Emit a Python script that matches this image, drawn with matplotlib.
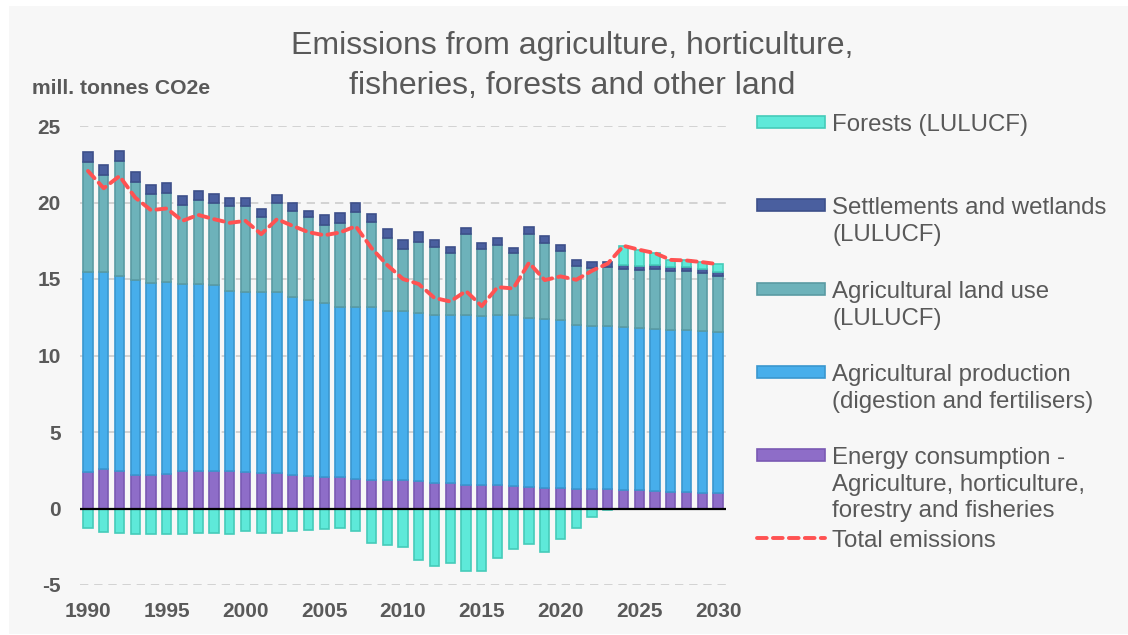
import numpy as np
import matplotlib as mpl

mpl.use('Agg')

import matplotlib.pyplot as plt
import matplotlib.patches as patches
from matplotlib.lines import Line2D

plt.rcParams['font.family'] = ['Liberation Sans', 'DejaVu Sans']
plt.rcParams['axes.unicode_minus'] = False

# emissions by source, mill. tonnes CO2e
years = np.arange(1990, 2031)
energy = [2.39, 2.55, 2.43, 2.22, 2.22, 2.28, 2.43, 2.46, 2.46, 2.43,
          2.39, 2.33, 2.33, 2.22, 2.11, 2.07, 2.07, 1.94, 1.89, 1.85,
          1.89, 1.83, 1.68, 1.68, 1.55, 1.55, 1.53, 1.44, 1.42, 1.35,
          1.35, 1.28, 1.26, 1.26, 1.20, 1.18, 1.13, 1.07, 1.07, 1.02, 1.02]
production = [13.06, 12.90, 12.78, 12.73, 12.55, 12.53, 12.23, 12.20, 12.14, 11.80,
              11.75, 11.79, 11.79, 11.60, 11.53, 11.35, 11.07, 11.22, 11.27, 11.07,
              11.03, 10.94, 10.98, 10.98, 11.07, 11.00, 11.09, 11.18, 11.03, 11.03,
              10.94, 10.73, 10.69, 10.64, 10.66, 10.59, 10.60, 10.61, 10.57, 10.56, 10.49]
land_use = [7.22, 6.35, 7.50, 6.42, 5.77, 5.84, 5.18, 5.51, 5.35, 5.55,
            5.66, 4.92, 5.88, 5.65, 5.38, 5.12, 5.51, 6.20, 5.55, 4.79,
            4.05, 4.68, 4.46, 4.03, 5.31, 4.40, 4.61, 4.07, 5.50, 5.00,
            4.55, 3.87, 3.80, 3.87, 3.78, 3.79, 3.91, 3.86, 3.90, 3.80, 3.70]
settlements = [0.65, 0.65, 0.65, 0.60, 0.61, 0.61, 0.61, 0.61, 0.59, 0.54,
               0.50, 0.52, 0.50, 0.48, 0.45, 0.65, 0.65, 0.59, 0.55, 0.57,
               0.55, 0.61, 0.43, 0.39, 0.39, 0.39, 0.48, 0.32, 0.44, 0.42,
               0.35, 0.33, 0.33, 0.31, 0.29, 0.26, 0.25, 0.23, 0.23, 0.26, 0.24]
forests = [-1.26, -1.52, -1.63, -1.65, -1.65, -1.65, -1.65, -1.59, -1.63, -1.65,
           -1.50, -1.63, -1.59, -1.48, -1.41, -1.33, -1.26, -1.50, -2.24, -2.37,
           -2.52, -3.39, -3.79, -3.55, -4.11, -4.11, -3.24, -2.63, -2.33, -2.87,
           -2.02, -1.26, -0.54, -0.07, 1.24, 1.09, 0.80, 0.48, 0.44, 0.46, 0.52]

labels = ['Forests (LULUCF)',
          'Settlements and wetlands\n(LULUCF)',
          'Agricultural land use\n(LULUCF)',
          'Agricultural production\n(digestion and fertilisers)',
          'Energy consumption -\nAgriculture, horticulture,\nforestry and fisheries',
          'Total emissions']

c_forest = ('#5ee9d9', '#45cbb9')
c_settle = ('#4a5f9f', '#3d508a')
c_land = ('#6db2ba', '#5a9ba3')
c_prod = ('#47aeeb', '#3a97cf')
c_energy = ('#8e6dc8', '#7a59b3')
c_total = '#ff5252'
txt_col = '#595959'

energy = np.array(energy)
production = np.array(production)
land_use = np.array(land_use)
settlements = np.array(settlements)
forests = np.array(forests)
total = energy + production + land_use + settlements + forests

W, H = 1128, 635
fig = plt.figure(figsize=(W / 100, H / 100), dpi=100, facecolor='white')
# light grey panel behind everything
fig.patches.append(patches.Rectangle((9 / W, 1 / H), 1119 / W, 628 / H,
                                     transform=fig.transFigure, fc='#f7f7f7',
                                     ec='none', zorder=-5))

ax = fig.add_axes([80.1 / W, 50 / H, 645.8 / W, 459 / H])
ax.set_facecolor('none')

bw = 0.58
b1 = energy
b2 = b1 + production
b3 = b2 + land_use
b4 = b3 + settlements
f_bottom = np.where(forests > 0, b4, 0.0)

kw = dict(width=bw, linewidth=1.2, zorder=3)
ax.bar(years, energy, color=c_energy[0], edgecolor=c_energy[1], **kw)
ax.bar(years, production, bottom=b1, color=c_prod[0], edgecolor=c_prod[1], **kw)
ax.bar(years, land_use, bottom=b2, color=c_land[0], edgecolor=c_land[1], **kw)
ax.bar(years, settlements, bottom=b3, color=c_settle[0], edgecolor=c_settle[1], **kw)
ax.bar(years, forests, bottom=f_bottom, color=c_forest[0], edgecolor=c_forest[1], **kw)

ax.plot(years, total, color=c_total, lw=2.8, dashes=(2.5, 1.6),
        dash_capstyle='round', zorder=5)

ax.axhline(0, color='black', lw=1.6, zorder=4)

ax.set_xlim(1989.5, 2030.5)
ax.set_ylim(-5, 25)
ax.set_yticks([-5, 0, 5, 10, 15, 20, 25])
ax.set_xticks(np.arange(1990, 2031, 5))
for y in [-5, 5, 10, 15, 20, 25]:
    ax.axhline(y, color='#cccccc', lw=1.2, dashes=(5, 3.5), zorder=1)
for s in ax.spines.values():
    s.set_visible(False)
ax.tick_params(length=0, labelsize=15, labelcolor=txt_col)
ax.tick_params(axis='y', pad=14)
ax.tick_params(axis='x', pad=12)
for t in ax.get_xticklabels() + ax.get_yticklabels():
    t.set_fontweight('bold')

fig.text(572 / W, 1 - 66 / H,
         'Emissions from agriculture, horticulture,\nfisheries, forests and other land',
         ha='center', va='center', fontsize=23, color=txt_col, linespacing=1.45)
fig.text(32 / W, 1 - 88 / H, 'mill. tonnes CO2e', ha='left', va='center',
         fontsize=15.2, fontweight='bold', color=txt_col)

# legend, drawn by hand to keep the wide spacing between entries
legend_y = [122, 205, 289, 372, 455]
legend_cols = [c_forest, c_settle, c_land, c_prod, c_energy]
for yy, col, lab in zip(legend_y, legend_cols, labels[:5]):
    fig.patches.append(patches.Rectangle((757 / W, (H - yy - 6) / H), 68 / W, 12 / H,
                                         transform=fig.transFigure, fc=col[0],
                                         ec=col[1], lw=1.2, zorder=3))
    fig.text(832 / W, 1 - (yy - 8) / H, lab, ha='left', va='top',
             fontsize=17.3, color=txt_col, linespacing=1.27)
fig.lines.append(Line2D([757 / W, 825 / W], [1 - 538 / H, 1 - 538 / H],
                        transform=fig.transFigure, color=c_total, lw=2.8,
                        dashes=(2.5, 1.6), dash_capstyle='round'))
fig.text(832 / W, 1 - (538 - 8) / H, labels[5], ha='left', va='top',
         fontsize=17.3, color=txt_col)

fig.savefig('out.png', dpi=100, facecolor='white')
